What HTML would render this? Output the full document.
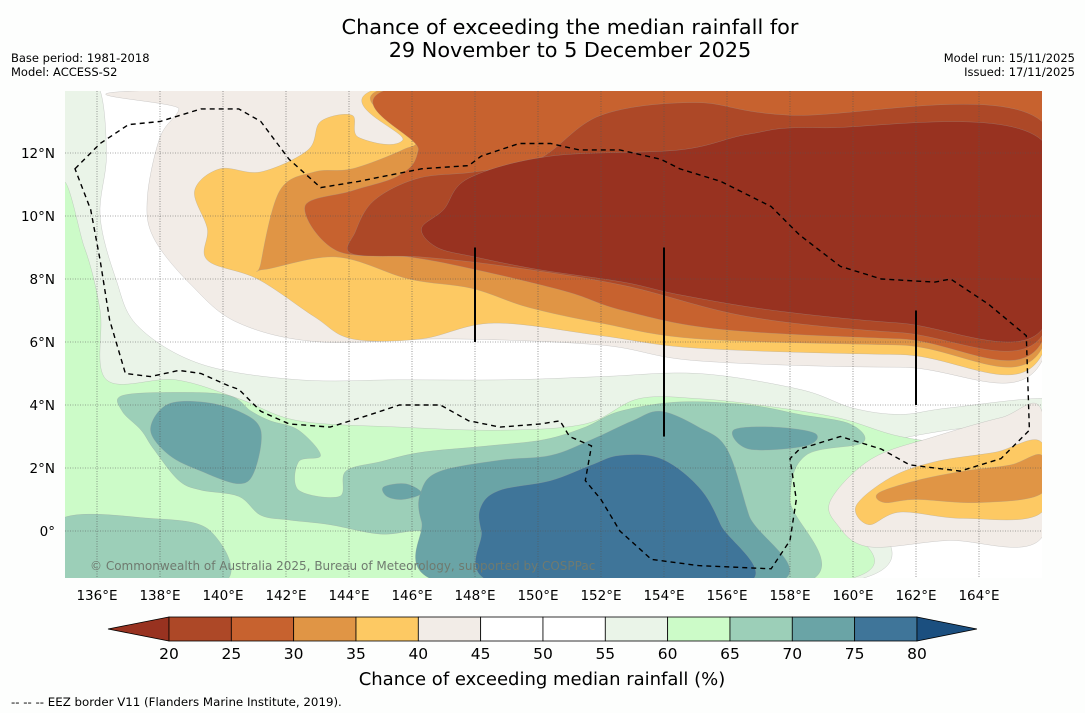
<!DOCTYPE html>
<html><head><meta charset="utf-8">
<style>
html,body{margin:0;padding:0;background:#fdfefd;}
svg{display:block;font-family:"DejaVu Sans","Liberation Sans",sans-serif;}
</style></head>
<body>
<svg id="chart" width="1085" height="713" viewBox="0 0 1085 713" xmlns="http://www.w3.org/2000/svg">
<rect x="0" y="0" width="1085" height="713" fill="#fdfefd"/>
<text x="570" y="34" font-size="20.8" text-anchor="middle" fill="#000">Chance of exceeding the median rainfall for</text>
<text x="570" y="57" font-size="20.8" text-anchor="middle" fill="#000">29 November to 5 December 2025</text>
<text x="11" y="62" font-size="11.5" fill="#000">Base period: 1981-2018</text>
<text x="11" y="76" font-size="11.5" fill="#000">Model: ACCESS-S2</text>
<text x="1075" y="62" font-size="11.5" text-anchor="end" fill="#000">Model run: 15/11/2025</text>
<text x="1075" y="76" font-size="11.5" text-anchor="end" fill="#000">Issued: 17/11/2025</text>
<defs><clipPath id="mapclip"><rect x="65" y="91" width="977" height="487"/></clipPath></defs>
<g id="map" clip-path="url(#mapclip)">
<rect x="65" y="91" width="977" height="487" fill="#ffffff"/>
<g id="regions"></g>
<g id="grid"></g>
<g id="marks"></g>
<text x="90" y="570" font-size="12" fill="#6f7a6f">© Commonwealth of Australia 2025, Bureau of Meteorology, supported by COSPPac</text>
</g>
<g id="xticks"></g>
<g id="yticks"></g>
<g id="colorbar"></g>
<text x="542" y="685" font-size="18" text-anchor="middle" fill="#000">Chance of exceeding median rainfall (%)</text>
<text x="11" y="706" font-size="11.8" fill="#000">--  --  -- EEZ border V11 (Flanders Marine Institute, 2019).</text>
</svg>
<script>
const lonTicks=[136,138,140,142,144,146,148,150,152,154,156,158,160,162,164];
const latTicks=[0,2,4,6,8,10,12];
const latTickLabels=["0°","2°N","4°N","6°N","8°N","10°N","12°N"];
const cbLevels=[20,25,30,35,40,45,50,55,60,65,70,75,80];
const cbColors=["#ad4827","#c7622f","#e09545","#fdc963","#f2ece7","#ffffff","#ffffff","#eaf4e8","#ccfbc8","#9ccfb8","#6aa4a6","#3f7599"];
const cbLow="#983220", cbHigh="#1b4f7f";
const rBeige=[[138.2,14],[166,14],[166,5.4],[161.5,5.2],[155.1,5.4],[152,5.9],[147.2,6.1],[143.1,6.0],[140.5,6.6],[139,7.8],[137.8,9.3],[137.6,10.6],[138,12.5],[138.6,13.4]];
const rYellow=[[139.1,10.8],[139.9,11.5],[141.2,11.4],[142.7,12.1],[143.1,13.0],[144.1,13.2],[144.3,12.5],[145.7,12.4],[145.9,14.2],[166,14.2],[166,5.6],[161.5,5.6],[155.1,5.8],[152,6.2],[148.6,6.6],[146.3,6.1],[144.1,6.1],[142.9,6.8],[141.1,8.0],[139.5,8.6],[139.5,9.6]];
const rOrange=[[141.2,8.5],[141.8,10.8],[142.9,11.4],[144.1,11.5],[145.7,12.1],[146.2,12.5],[146.1,14.2],[166,14.2],[166,5.8],[161.5,5.9],[155.1,6.1],[152,6.6],[149.7,7.1],[147.9,7.7],[145.9,8.0],[143.6,8.7],[141.3,8.3]];
const rDark1=[[142.6,10.3],[144.1,10.8],[145.6,11.3],[146.2,12.1],[146.2,14.2],[166,14.2],[166,6.0],[161.5,6.1],[155.8,6.4],[152.7,7.0],[150.9,7.6],[148,8.3],[145.9,8.7],[143.6,8.9]];
const rDark2=[[144.2,9.5],[144.8,10.5],[146.2,11.2],[148,11.4],[150,11.8],[152,13.2],[155,13.6],[158,13.2],[166,13.0],[166,6.2],[161.5,6.3],[156.7,6.8],[152.7,7.8],[149,8.4],[146.3,8.7],[144.1,8.8]];
const rDark3=[[146.3,9.6],[147,10.2],[147.8,11.2],[150.4,11.9],[154.5,12.1],[156.7,12.6],[159,12.8],[166,12.4],[166,6.4],[161.5,6.6],[157.5,7.0],[154.5,7.5],[152.7,7.9],[150,8.3],[148,8.7],[146.8,9.0]];
const rSE1=[[159.3,1.0],[160.6,2.3],[162.6,3.0],[164.7,3.6],[166,3.8],[166,-0.2],[163,-0.3],[160.5,-0.5],[159.5,0.2]];
const rSE2=[[160.1,0.8],[161.2,1.7],[162.6,2.2],[164.5,2.5],[166,2.8],[166,0.6],[163.5,0.4],[161.5,0.6],[160.5,0.2]];
const rSE3=[[160.8,1.2],[162,1.6],[163.5,1.9],[165,2.1],[166,2.4],[166,1.2],[164,0.9],[162,1.0],[161,0.9]];
const rWet55=[[134.8,14.2],[136,14.2],[136.3,12],[136.1,10],[136.6,8],[137.3,6.5],[139.3,5.3],[142.4,4.8],[145.6,4.8],[149,4.8],[152,4.9],[155.1,5.0],[158.3,4.5],[160,3.9],[161.5,3.7],[163,3.9],[166.2,4.2],[166.2,3.5],[163,3.2],[160.5,2.6],[159.8,1.5],[159.3,-1.7],[134.8,-1.7]];
const rWet60=[[134.8,10.5],[135.6,9],[136.1,7],[136.3,4.8],[138.5,4.8],[140.5,4.2],[142.4,3.5],[145.6,3.3],[148.8,3.2],[151.5,3.4],[153.2,4.2],[155.1,4.2],[157,4.0],[159.5,3.6],[161.5,3.0],[163.5,2.8],[166.2,3.1],[166.2,2.9],[163.3,2.2],[160.5,1.8],[159.3,0.8],[158.8,-1.7],[134.8,-1.7]];
const rWet65a=[[136.8,4.3],[138.6,4.4],[140.2,4.3],[140.9,3.8],[141.5,3.5],[142.4,3.2],[143.1,2.4],[142.4,2.2],[142.4,1.3],[143.7,1.1],[143.9,1.9],[145,2.2],[146.3,2.5],[148.4,2.7],[150.2,2.9],[151.5,3.3],[152.6,3.8],[154.5,4.1],[156.7,4.0],[158.3,3.7],[159.9,3.4],[160.3,2.8],[158.5,2.4],[158,1.0],[158.3,-1.7],[147.4,-1.7],[147.2,-0.4],[146.3,0],[145,-0.1],[143.4,0.2],[142.1,0.35],[141.2,0.5],[140.5,1.1],[139.3,1.3],[138.6,1.6],[137.8,2.6],[137.4,3.2],[136.8,3.8]];
const rWet65b=[[134.8,0.35],[137.7,0.4],[139.6,0.0],[139.9,-1.7],[134.8,-1.7]];
const rWet70a=[[137.7,3.2],[138.2,4.0],[139.3,4.1],[140.5,3.8],[141.2,3.2],[141,1.9],[140.5,1.5],[139.3,1.9],[138.3,2.4]];
const rWet70b=[[146.9,1.9],[148.8,2.25],[150.4,2.4],[151.7,2.9],[153,3.5],[153.9,3.8],[155.1,3.3],[156,2.6],[156.7,0.5],[157.4,-1.7],[147.2,-1.7],[146.3,0.3],[146.3,1.3]];
const rWet70c=[[156.2,3.2],[157.5,3.3],[158.8,3.1],[158.5,2.7],[156.7,2.6]];
const rWet70d=[[145.1,1.4],[145.8,1.5],[146.3,1.2],[145.7,1.0],[145.2,1.1]];
const rWet75=[[148.8,1.3],[150.4,1.6],[151.7,2.1],[152.6,2.4],[153.9,2.3],[155.1,1.4],[155.8,0.2],[156.5,-1.7],[148.8,-1.7],[148.2,0],[148.2,0.8]];
const eez=[[135.3,11.5],[136.1,12.3],[137.0,12.9],[138.0,13.0],[139.3,13.4],[140.5,13.4],[141.2,13.0],[142.1,11.8],[143.1,10.9],[144.3,11.1],[146.3,11.5],[147.8,11.6],[148.2,11.9],[149.4,12.3],[150.4,12.3],[151.3,12.1],[152.6,12.1],[153.9,11.8],[154.5,11.5],[155.8,11.1],[157.4,10.3],[158.3,9.4],[159.6,8.4],[160.9,8.0],[162.6,7.9],[163.1,8.0],[164.3,7.2],[165.5,6.2],[165.6,3.2],[164.7,2.3],[163.4,1.9],[161.8,2.1],[160.9,2.6],[159.6,3.0],[158.3,2.6],[158.0,2.3],[158.2,1.0],[158.0,-0.3],[157.4,-1.2],[155.1,-1.1],[153.6,-0.9],[152.6,0.0],[152.0,1.0],[151.5,1.6],[151.7,2.7],[151.0,3.0],[150.7,3.5],[150.1,3.4],[148.8,3.3],[147.8,3.5],[146.9,4.0],[145.6,4.0],[144.7,3.7],[143.4,3.3],[142.1,3.4],[141.2,3.8],[140.5,4.5],[140.2,4.6],[139.3,5.0],[138.6,5.1],[137.7,4.9],[136.9,5.0],[136.4,6.7],[136.1,8.6],[135.8,10.2]];
const zoneLines=[[148,9,6],[154,9,3],[162,7,4]];

const X=lon=>97+(lon-136)*31.5;
const Y=lat=>531-lat*31.5;
const NS="http://www.w3.org/2000/svg";
function mk(tag,attrs,parent){const e=document.createElementNS(NS,tag);for(const k in attrs)e.setAttribute(k,attrs[k]);parent.appendChild(e);return e;}
function smooth(pts){const p=pts.map(q=>[X(q[0]),Y(q[1])]);const n=p.length;let d="M"+p[0][0].toFixed(1)+","+p[0][1].toFixed(1);
 for(let i=0;i<n;i++){const p0=p[(i-1+n)%n],p1=p[i],p2=p[(i+1)%n],p3=p[(i+2)%n];
 const c1=[p1[0]+(p2[0]-p0[0])/6,p1[1]+(p2[1]-p0[1])/6],c2=[p2[0]-(p3[0]-p1[0])/6,p2[1]-(p3[1]-p1[1])/6];
 d+="C"+c1.map(v=>v.toFixed(1))+" "+c2.map(v=>v.toFixed(1))+" "+p2.map(v=>v.toFixed(1));}
 return d+"Z";}
const reg=document.getElementById('regions');
const layers=[["region-55-60",rWet55,cbColors[7]],["region-60-65",rWet60,cbColors[8]],["region-65-70-main",rWet65a,cbColors[9]],["region-65-70-southwest",rWet65b,cbColors[9]],["region-70-75-west",rWet70a,cbColors[10]],["region-70-75-main",rWet70b,cbColors[10]],["region-70-75-east",rWet70c,cbColors[10]],["region-70-75-small",rWet70d,cbColors[10]],["region-75-80",rWet75,cbColors[11]],
["region-40-45",rBeige,cbColors[4]],["region-35-40",rYellow,cbColors[3]],["region-30-35",rOrange,cbColors[2]],["region-25-30",rDark1,cbColors[1]],["region-20-25",rDark2,cbColors[0]],["region-below-20",rDark3,cbLow],
["region-southeast-40-45",rSE1,cbColors[4]],["region-southeast-35-40",rSE2,cbColors[3]],["region-southeast-30-35",rSE3,cbColors[2]]];
layers.forEach(l=>{const e=mk('path',{d:smooth(l[1]),fill:l[2],stroke:"#9a9a9a","stroke-width":"0.4","stroke-opacity":"0.6"},reg);

});
const grid=document.getElementById('grid');
lonTicks.forEach(v=>{const e=mk('line',{x1:X(v),x2:X(v),y1:91,y2:578,stroke:"#555","stroke-width":"0.6","stroke-dasharray":"1,1.5"},grid);

});
latTicks.forEach(v=>{const e=mk('line',{x1:65,x2:1042,y1:Y(v),y2:Y(v),stroke:"#555","stroke-width":"0.6","stroke-dasharray":"1,1.5"},grid);

});
const marks=document.getElementById('marks');
const ez=mk('path',{d:"M"+eez.map(q=>X(q[0]).toFixed(1)+","+Y(q[1]).toFixed(1)).join("L")+"Z",fill:"none",stroke:"#000","stroke-width":"1.4","stroke-dasharray":"5,4"},marks);


zoneLines.forEach(z=>{const e=mk('line',{x1:X(z[0]),x2:X(z[0]),y1:Y(z[1]),y2:Y(z[2]),stroke:"#000","stroke-width":"2"},marks);

});
const xt=document.getElementById('xticks');
lonTicks.forEach(v=>{const e=mk('text',{x:X(v),y:600,"font-size":"13.5","text-anchor":"middle",fill:"#000"},xt);e.textContent=v+"°E";

});
const yt=document.getElementById('yticks');
latTicks.forEach((v,i)=>{const e=mk('text',{x:55,y:Y(v)+5,"font-size":"13.5","text-anchor":"end",fill:"#000"},yt);e.textContent=latTickLabels[i];

});
const cb=document.getElementById('colorbar');
const cx0=169,cw=62.33,cy=617,ch=24;
const tl=mk('polygon',{points:`108,${cy+ch/2} ${cx0},${cy} ${cx0},${cy+ch}`,fill:cbLow,stroke:"#000","stroke-width":"0.8"},cb);


cbColors.forEach((c,i)=>{const e=mk('rect',{x:cx0+i*cw,y:cy,width:cw,height:ch,fill:c,stroke:"#000","stroke-width":"0.8"},cb);

});
const xe=cx0+cbColors.length*cw;
const tr=mk('polygon',{points:`${xe},${cy} ${xe+60},${cy+ch/2} ${xe},${cy+ch}`,fill:cbHigh,stroke:"#000","stroke-width":"0.8"},cb);


cbLevels.forEach((v,i)=>{const e=mk('text',{x:cx0+i*cw,y:659,"font-size":"15.5","text-anchor":"middle",fill:"#000"},cb);e.textContent=v;

});
</script>
</body></html>
